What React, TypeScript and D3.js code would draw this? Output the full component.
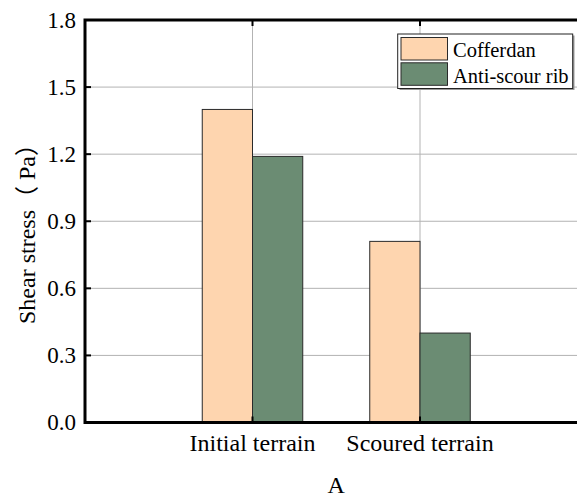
import React from "react";
import * as d3 from "d3";

// Chart data
const categories = ["Initial terrain", "Scoured terrain"];
const seriesNames = ["Cofferdan", "Anti-scour rib"];
const cofferdan = [1.4, 0.81];
const antiScourRib = [1.19, 0.4];
const yTicks = [0, 0.3, 0.6, 0.9, 1.2, 1.5, 1.8];
const seriesColors = ["#FED5AF", "#6B8C73"];

const W = 577;
const H = 498;
const FONT = '"Liberation Serif", Tinos, "Times New Roman", "DejaVu Serif", serif';
const CJK = '"Noto Sans CJK SC", sans-serif';
const txt = { fontFamily: FONT };

export default function App() {
  const left = 85;
  const top = 20;
  const bottom = 422.5;
  const right = 587.5;

  const x = d3.scaleLinear().domain([0, 3]).range([left, right]);
  const y = d3.scaleLinear().domain([0, 1.8]).range([bottom, top]);

  const barW = 0.3;
  const series = [cofferdan, antiScourRib];

  return (
    <svg
      width={W}
      height={H}
      style={{ position: "absolute", left: 0, top: 0, background: "#fff", fontFamily: FONT }}
    >
      <rect x={0} y={0} width={W} height={H} fill="#fff" />

      {/* grid */}
      {yTicks
        .filter((t) => t > 0 && t < 1.8)
        .map((t) => (
          <line key={"gy" + t} x1={left} x2={right} y1={y(t)} y2={y(t)} stroke="#b3b3b3" strokeWidth={1} />
        ))}
      {categories.map((c, i) => (
        <line key={"gx" + c} x1={x(i + 1)} x2={x(i + 1)} y1={top} y2={bottom} stroke="#b3b3b3" strokeWidth={1} />
      ))}

      {/* bars */}
      {series.map((vals, s) =>
        vals.map((v, i) => {
          const x0 = x(i + 1 + (s === 0 ? -barW : 0));
          const x1 = x(i + 1 + (s === 0 ? 0 : barW));
          return (
            <rect
              key={`b${s}-${i}`}
              x={x0}
              y={y(v)}
              width={x1 - x0}
              height={y(0) - y(v)}
              fill={seriesColors[s]}
              stroke="#2a2a2a"
              strokeWidth={1}
            />
          );
        })
      )}

      {/* frame */}
      <rect x={left} y={top} width={right - left} height={bottom - top} fill="none" stroke="#000" strokeWidth={3} />

      {/* y ticks */}
      {yTicks.map((t) => (
        <g key={"yt" + t}>
          <line x1={left} x2={left + 6} y1={y(t)} y2={y(t)} stroke="#000" strokeWidth={2} />
          <text style={txt} x={76} y={y(t) + 7.5} textAnchor="end" fontSize={23} fill="#000">
            {t.toFixed(1)}
          </text>
        </g>
      ))}

      {/* x ticks and labels */}
      {categories.map((c, i) => (
        <g key={"xt" + c}>
          <line x1={x(i + 1)} x2={x(i + 1)} y1={bottom} y2={bottom - 6} stroke="#000" strokeWidth={2} />
          <line x1={x(i + 1)} x2={x(i + 1)} y1={top} y2={top + 6} stroke="#000" strokeWidth={2} />
          <text style={txt} x={x(i + 1)} y={451} textAnchor="middle" fontSize={24} fill="#000">
            {c}
          </text>
        </g>
      ))}

      {/* axis titles */}
      <text style={txt} x={(left + right) / 2} y={493} textAnchor="middle" fontSize={24} fill="#000">
        A
      </text>
      <text
        style={txt}
        transform={`translate(35, 228) rotate(-90)`}
        textAnchor="middle"
        fontSize={24}
        fill="#000"
      >
        Shear stress<tspan style={{ fontFamily: CJK }}>（</tspan> Pa<tspan style={{ fontFamily: CJK }}>）</tspan>
      </text>

      {/* legend */}
      <rect x={399.5} y={35.5} width={175} height={54.5} fill="#999" />
      <rect x={397.7} y={34} width={175} height={54.5} fill="#fff" stroke="#222" strokeWidth={1} />
      {seriesNames.map((n, s) => (
        <g key={"lg" + n}>
          <rect
            x={401}
            y={37.5 + s * 25.3}
            width={46.5}
            height={22.5}
            fill={seriesColors[s]}
            stroke="#2a2a2a"
            strokeWidth={1}
          />
          <text style={txt} x={453} y={56.5 + s * 26.5} fontSize={20.5} fill="#000">
            {n}
          </text>
        </g>
      ))}
    </svg>
  );
}
